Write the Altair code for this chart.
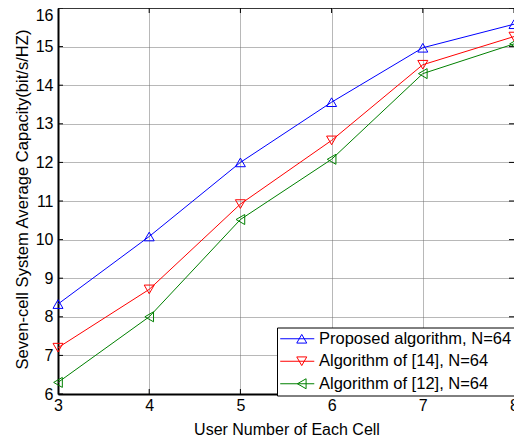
import json
import altair as alt
import pandas as pd

# ---- data ----
user_numbers = [3, 4, 5, 6, 7, 8]
series_names = [
    "Proposed algorithm, N=64",
    "Algorithm of [14], N=64",
    "Algorithm of [12], N=64",
]
proposed = [8.33, 10.08, 12.0, 13.56, 14.97, 15.58]
alg14 = [7.2, 8.71, 10.92, 12.57, 14.53, 15.26]
alg12 = [6.3, 8.0, 10.52, 12.08, 14.3, 15.07]
series_values = [proposed, alg14, alg12]

x_domain = [3, 8]
y_domain = [6, 16]
y_ticks = list(range(6, 17))
x_ticks = user_numbers

colors = ["#0000ff", "#ff0000", "#008000"]
shapes = ["triangle-up", "triangle-down", "triangle-left"]
keys = [str(i) for i in range(len(series_names))]

rows = []
for k, name, vals in zip(keys, series_names, series_values):
    for xv, yv in zip(user_numbers, vals):
        rows.append({"x": xv, "y": yv, "series": name, "key": k})
df = pd.DataFrame(rows)

# inward tick marks on all four sides of the box (MATLAB style)
ytick_df = pd.DataFrame([{"x": xe, "y": yv} for xe in x_domain for yv in y_ticks])
xtick_df = pd.DataFrame([{"x": xv, "y": ye} for ye in y_domain for xv in x_ticks])

FONT = "Liberation Sans"
label_expr = json.dumps(series_names) + "[toNumber(datum.value)]"

x_enc = alt.X(
    "x:Q",
    scale=alt.Scale(domain=x_domain, nice=False, zero=False),
    axis=alt.Axis(
        values=x_ticks,
        title="User Number of Each Cell",
        titleX=228.5,
        titleY=40.5,
        titleBaseline="alphabetic",
        titleAlign="center",
        titleAnchor="start",
        labelPadding=3,
        labelFlush=False,
    ),
)
y_enc = alt.Y(
    "y:Q",
    scale=alt.Scale(domain=y_domain, nice=False, zero=False),
    axis=alt.Axis(
        values=y_ticks,
        title="Seven-cell System Average Capacity(bit/s/HZ)",
        titleX=-30.5,
        titleY=191,
        titleAngle=270,
        titleFontSize=16.6,
        titleBaseline="alphabetic",
        titleAlign="center",
        titleAnchor="start",
        labelPadding=5,
        labelFlush=False,
        labelOffset={"condition": {"test": "datum.value == 16", "value": 7}, "value": 0},
    ),
)

legend_common = dict(
    orient="none",
    legendX=219,
    legendY=319.5,
    direction="vertical",
    title=None,
    labelFont=FONT,
    labelFontSize=16.5,
    labelLimit=400,
    padding=3,
    rowPadding=5.5,
    symbolStrokeWidth=1,
)

legend_line = alt.Legend(
    symbolType="M-2.27,0H2.27",
    symbolSize=225,
    labelColor="black",
    labelOffset=13.5,
    symbolOffset=9,
    strokeColor="black",
    fillColor="white",
    labelExpr=label_expr,
    zindex=1,
    **legend_common,
)
legend_marker = alt.Legend(
    symbolSize=100,
    labelOffset=13.5,
    symbolOffset=13.5,
    labelOpacity=0,
    zindex=2,
    **legend_common,
)

base = alt.Chart(df)

lines = base.mark_line(strokeWidth=1).encode(
    x=x_enc,
    y=y_enc,
    stroke=alt.Stroke(
        "key:N",
        scale=alt.Scale(domain=keys, range=colors),
        legend=legend_line,
    ),
    detail="key:N",
)

points = base.mark_point(filled=False, size=100, strokeWidth=1, opacity=1).encode(
    x=x_enc,
    y=y_enc,
    color=alt.Color(
        "series:N",
        scale=alt.Scale(domain=series_names, range=colors),
        legend=legend_marker,
    ),
    shape=alt.Shape(
        "series:N",
        scale=alt.Scale(domain=series_names, range=shapes),
        legend=legend_marker,
    ),
)

yticks_layer = alt.Chart(ytick_df).mark_tick(
    orient="horizontal", size=10, thickness=1, color="black", opacity=1, clip=True
).encode(x=x_enc, y=y_enc)

xticks_layer = alt.Chart(xtick_df).mark_tick(
    orient="vertical", size=10, thickness=1, color="black", opacity=1, clip=True
).encode(x=x_enc, y=y_enc)

chart = (
    alt.layer(yticks_layer, xticks_layer, lines, points)
    .properties(
        width=456,
        height=386,
        autosize=alt.AutoSizeParams(type="none"),
        padding={"left": 50, "top": 0, "right": 0, "bottom": 42},
        background="white",
    )
    .configure_view(stroke="black", strokeWidth=1)
    .configure_axis(
        labelFont=FONT,
        titleFont=FONT,
        labelFontSize=16,
        titleFontSize=16,
        labelColor="black",
        titleColor="black",
        titleFontWeight="normal",
        domainColor="black",
        domainWidth=2,
        tickSize=0,
        grid=True,
        gridColor="#707070",
        gridDash=[1, 1],
        gridWidth=1,
        gridOpacity=1,
    )
)

chart.save("out.html", embed_options={"renderer": "svg", "actions": False})
